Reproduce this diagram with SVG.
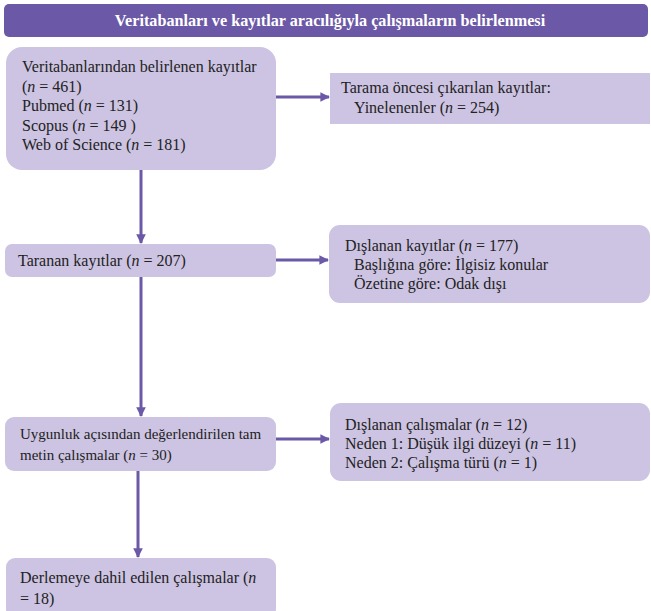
<svg xmlns="http://www.w3.org/2000/svg" width="651" height="611" viewBox="0 0 651 611">
<defs>
<style>
.box{fill:#cdc4e3;}
.hdr{fill:#6b58a6;}
text{font-family:'Liberation Serif','DejaVu Serif',serif;}
.t{font-size:16px;fill:#222;}
.s{font-size:15px;}
.h{font-size:16.2px;font-weight:bold;fill:#fff;}
.i{font-style:italic;}
.c{stroke:#6b58a6;stroke-width:3;fill:none;}
</style>
<marker id="ah" viewBox="0 0 10 10" refX="9" refY="5" markerWidth="3.2" markerHeight="3.2" orient="auto" markerUnits="strokeWidth">
<path d="M0,0 L10,5 L0,10 z" fill="#6b58a6"/>
</marker>
</defs>
<g id="header" font-family="Liberation Serif, serif">
<rect class="hdr" x="4" y="4" width="644" height="33" rx="5"/>
<text class="h" x="330" y="26" text-anchor="middle">Veritabanları ve kayıtlar aracılığıyla çalışmaların belirlenmesi</text>
</g>
<g id="n1" font-family="Liberation Serif, serif">
<rect class="box" x="6" y="47" width="270" height="123" rx="16"/>
<text class="t" x="22" y="72">Veritabanlarından belirlenen kayıtlar</text>
<text class="t" x="22" y="91.5">(<tspan class="i">n</tspan> = 461)</text>
<text class="t" x="22" y="111">Pubmed (<tspan class="i">n</tspan> = 131)</text>
<text class="t" x="22" y="130.5">Scopus (<tspan class="i">n</tspan> = 149 )</text>
<text class="t" x="22" y="150">Web of Science (<tspan class="i">n</tspan> = 181)</text>
</g>
<g id="n2" font-family="Liberation Serif, serif">
<rect class="box" x="330" y="73" width="320" height="51"/>
<text class="t" x="341" y="93">Tarama öncesi çıkarılan kayıtlar:</text>
<text class="t" x="354" y="113">Yinelenenler (<tspan class="i">n</tspan> = 254)</text>
</g>
<g id="n3" font-family="Liberation Serif, serif">
<rect class="box" x="5" y="244" width="271" height="33" rx="7"/>
<text class="t" x="18" y="266">Taranan kayıtlar (<tspan class="i">n</tspan> = 207)</text>
</g>
<g id="n4" font-family="Liberation Serif, serif">
<rect class="box" x="329" y="225" width="321" height="78" rx="11"/>
<text class="t" x="345" y="251">Dışlanan kayıtlar (<tspan class="i">n</tspan> = 177)</text>
<text class="t" x="354" y="270">Başlığına göre: İlgisiz konular</text>
<text class="t" x="354" y="289">Özetine göre: Odak dışı</text>
</g>
<g id="n5" font-family="Liberation Serif, serif">
<rect class="box" x="5" y="417" width="271" height="54" rx="9"/>
<text class="t s" x="20" y="439">Uygunluk açısından değerlendirilen tam</text>
<text class="t s" x="20" y="460">metin çalışmalar  (<tspan class="i">n</tspan> = 30)</text>
</g>
<g id="n6" font-family="Liberation Serif, serif">
<rect class="box" x="330" y="403" width="320" height="78" rx="11"/>
<text class="t" x="345" y="430">Dışlanan çalışmalar (<tspan class="i">n</tspan> = 12)</text>
<text class="t" x="345" y="449">Neden 1: Düşük ilgi düzeyi (<tspan class="i">n</tspan> = 11)</text>
<text class="t" x="345" y="468">Neden 2: Çalışma türü  (<tspan class="i">n</tspan> = 1)</text>
</g>
<g id="n7" font-family="Liberation Serif, serif">
<rect class="box" x="6" y="558" width="270" height="60" rx="9"/>
<text class="t" x="20" y="583">Derlemeye dahil edilen çalışmalar  (<tspan class="i">n</tspan></text>
<text class="t" x="20" y="604">= 18)</text>
</g>
<g id="connectors">
<line class="c" x1="276" y1="97" x2="329" y2="97" marker-end="url(#ah)"/>
<line class="c" x1="141" y1="170" x2="141" y2="243" marker-end="url(#ah)"/>
<line class="c" x1="276" y1="260" x2="328" y2="260" marker-end="url(#ah)"/>
<line class="c" x1="141" y1="277" x2="141" y2="416" marker-end="url(#ah)"/>
<line class="c" x1="276" y1="439" x2="329" y2="439" marker-end="url(#ah)"/>
<line class="c" x1="138" y1="471" x2="138" y2="557" marker-end="url(#ah)"/>
</g>
</svg>
